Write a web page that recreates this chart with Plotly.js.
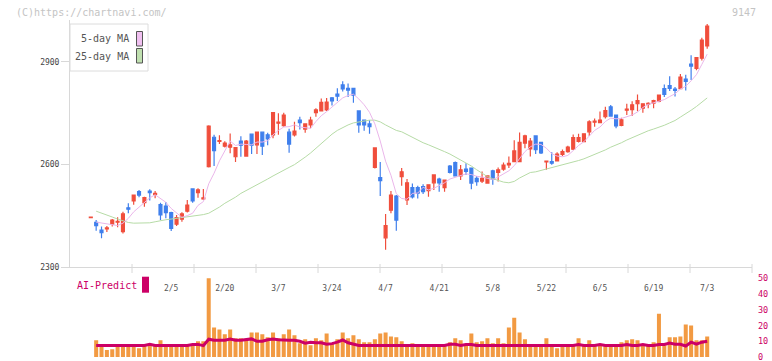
<!DOCTYPE html>
<html><head><meta charset="utf-8">
<script src="https://cdn.plot.ly/plotly-3.0.1.min.js"></script>
<style>html,body{margin:0;padding:0;background:#fff}#chart{width:772px;height:361px}</style>
</head><body><div id="chart"></div>
<script>
// Trading days (2025)
const dates = ["1/15","1/16","1/17","1/20","1/21","1/22","1/23","1/24","1/27","1/28","1/29","1/30","1/31",
"2/3","2/4","2/5","2/6","2/7","2/10","2/12","2/13","2/14","2/17","2/18","2/19","2/20","2/21","2/25","2/26","2/27","2/28",
"3/3","3/4","3/5","3/6","3/7","3/10","3/11","3/12","3/13","3/14","3/17","3/18","3/19","3/21","3/24","3/25","3/26","3/27","3/28","3/31",
"4/1","4/2","4/3","4/4","4/7","4/8","4/9","4/10","4/11","4/14","4/15","4/16","4/17","4/18","4/21","4/22","4/23","4/24","4/25","4/28","4/30",
"5/1","5/2","5/7","5/8","5/9","5/12","5/13","5/14","5/15","5/16","5/19","5/20","5/21","5/22","5/23","5/26","5/27","5/28","5/29","5/30",
"6/2","6/3","6/4","6/5","6/6","6/9","6/10","6/11","6/12","6/13","6/16","6/17","6/18","6/19","6/20","6/23","6/24","6/25","6/26","6/27","6/30",
"7/1","7/2","7/3"];

const openP = [2445,2431,2409,2412,2426,2432,2404,2474,2494,2521,
2489,2523,2513,2483,2479,2460,2426,2441,2464,2529,
2518,2500,2594,2680,2668,2654,2651,2623,2669,2625,
2689,2658,2695,2687,2687,2721,2714,2695,2687,2730,
2704,2716,2752,2757,2760,2795,2806,2833,2823,2823,
2757,2730,2719,2592,2562,2386,2467,2508,2565,2497,
2533,2533,2536,2524,2547,2558,2533,2596,2606,2567,
2587,2590,2560,2552,2546,2582,2577,2587,2599,2609,
2609,2663,2646,2684,2665,2608,2609,2611,2630,2638,
2645,2668,2667,2696,2724,2723,2740,2769,2745,2715,
2759,2761,2778,2765,2777,2780,2785,2822,2831,2821,
2822,2850,2894,2881,2911,2947];

const highP = [2447,2438,2419,2421,2441,2446,2462,2487,2513,2526,
2506,2528,2523,2489,2491,2462,2453,2461,2497,2531,
2531,2529,2715,2687,2686,2668,2691,2651,2683,2672,
2691,2696,2696,2693,2753,2750,2752,2705,2725,2740,
2721,2740,2765,2793,2795,2798,2823,2844,2837,2823,
2757,2730,2730,2650,2608,2456,2523,2511,2590,2558,
2545,2538,2543,2541,2570,2562,2556,2599,2609,2599,
2604,2592,2567,2580,2567,2585,2592,2606,2624,2671,
2694,2687,2678,2684,2667,2611,2636,2636,2644,2655,
2688,2690,2691,2730,2735,2755,2769,2774,2745,2737,
2778,2785,2805,2778,2782,2790,2805,2834,2858,2827,
2865,2863,2920,2913,2971,3011];

const lowP = [2445,2407,2385,2403,2419,2417,2399,2458,2483,2505,
2477,2495,2502,2438,2443,2406,2421,2433,2460,2489,
2503,2497,2592,2596,2660,2650,2633,2608,2623,2623,
2631,2631,2628,2657,2677,2687,2711,2635,2682,2703,
2693,2706,2740,2757,2757,2773,2786,2814,2798,2781,
2693,2699,2690,2589,2508,2351,2458,2407,2538,2482,
2501,2501,2514,2506,2526,2521,2521,2574,2565,2555,
2570,2528,2538,2546,2545,2541,2551,2582,2590,2608,
2608,2648,2624,2631,2631,2585,2600,2609,2625,2635,
2643,2665,2667,2684,2711,2721,2735,2740,2706,2712,
2745,2742,2756,2752,2765,2765,2782,2798,2815,2799,
2820,2817,2847,2876,2904,2939];

const closeP = [2447,2422,2401,2415,2438,2434,2456,2470,2511,2511,
2504,2518,2516,2453,2460,2414,2445,2456,2482,2494,
2526,2503,2713,2641,2670,2663,2658,2650,2657,2669,
2657,2695,2654,2675,2752,2724,2745,2660,2698,2723,
2719,2730,2760,2782,2783,2786,2800,2821,2818,2803,
2716,2716,2711,2649,2553,2422,2511,2438,2579,2547,
2506,2517,2521,2541,2570,2547,2555,2577,2567,2585,
2580,2546,2550,2560,2567,2557,2585,2599,2604,2640,
2665,2684,2669,2644,2634,2610,2604,2631,2638,2651,
2679,2679,2690,2725,2727,2730,2758,2742,2713,2731,
2762,2775,2787,2778,2779,2787,2803,2805,2823,2817,
2856,2843,2888,2913,2964,3005];

const ma5 = [null,2432,2430,2427,2424,2422,2429,2443,2462,2476,
2490,2503,2512,2500,2490,2472,2458,2446,2451,2458,
2481,2492,2544,2575,2611,2638,2669,2656,2660,2659,
2658,2666,2666,2670,2687,2700,2710,2711,2716,2710,
2709,2706,2726,2743,2755,2768,2782,2795,2802,2806,
2792,2775,2753,2719,2669,2610,2569,2515,2501,2499,
2516,2517,2534,2526,2531,2539,2547,2558,2563,2566,
2573,2571,2566,2564,2561,2556,2564,2574,2582,2597,
2619,2638,2652,2660,2659,2648,2632,2625,2623,2627,
2641,2656,2667,2685,2700,2710,2726,2736,2734,2735,
2741,2745,2754,2767,2776,2781,2787,2790,2799,2807,
2821,2829,2845,2863,2893,2923];

const ma25 = [null,2464,2459,2453,2447,2441,2435,2431,2429,2429,
2429,2430,2433,2437,2439,2441,2443,2446,2448,2450,
2452,2454,2458,2466,2476,2487,2495,2505,2516,2524,
2533,2542,2550,2558,2567,2576,2585,2592,2600,2610,
2622,2634,2648,2662,2676,2689,2700,2709,2716,2722,
2725,2728,2730,2730,2725,2716,2709,2700,2696,2688,
2679,2670,2664,2658,2652,2645,2638,2631,2622,2614,
2606,2596,2585,2575,2565,2559,2554,2549,2547,2551,
2561,2568,2577,2579,2583,2587,2590,2595,2599,2602,
2607,2612,2617,2623,2629,2635,2643,2651,2657,2664,
2672,2679,2687,2694,2699,2704,2709,2715,2722,2729,
2739,2748,2759,2770,2782,2795];

const aiBars = [null,10.6,7.5,4.4,5,7.5,7.3,7.5,7.4,5.6,
7.5,7.5,7.4,10.6,7.5,7.3,7.5,7.4,7.5,8.1,
10,10,52,18.8,17.5,14.4,17.5,11.9,11.9,11.3,
15.6,15.6,14.4,12.5,15.6,11.9,14.4,17.5,13.8,8.8,
11.3,7.5,11.9,10.6,15,8.8,11.3,15.6,11.9,13.8,
11.3,9.4,9.4,11.3,15,15.6,13.1,12.5,10,7.5,
8.8,7.5,7.4,7.5,7.3,7.5,7.4,9.4,11.9,10.6,
7.5,15,9.4,10,11.9,8.8,11.9,8.8,18.8,25,
15.6,11.3,7.5,7.4,7.5,11.9,7.5,5.6,7.5,7.4,
7.5,11.9,7.5,10.6,7.5,7.4,7.5,7.5,7.3,9.4,
10.6,11.3,10.6,7.5,7.4,9.4,27.5,7.5,12.5,12.5,
13.1,20.6,20,10.6,10.6,13.1];

const aiLine = [null,7.3,7.3,7.3,7.3,7.3,7.3,7.3,7.3,7.3,
7.3,8.1,7.3,7.3,7.3,7.3,7.3,7.3,7.3,8,
8,7.2,11.3,10.6,10.6,10.6,11.4,10.6,10.6,11,
11.5,10,10,11,11.4,11,10.6,10.6,10.6,10,
8.8,9.3,9,9,8.1,8.5,9.4,10.8,9,8.1,
7.3,7.3,7.3,7.3,7.3,7.3,7.3,7.3,7.3,7.3,
7.3,7.3,7.3,7.3,7.3,7.3,7.3,8.1,8.1,7.3,
8,8,7.3,7.3,7.3,7.3,7.3,7.3,7.3,7.3,
7.3,7.3,7.3,7.3,7.3,7.3,7.3,7.3,7.3,7.3,
7.3,8,7.3,7.3,7.3,8,7.3,7.3,7.3,7.3,
8,7.3,7.3,8,7.3,7.3,8,8,8.8,8.1,
8.1,7,9.4,8.1,9.4,10];

const tickDates = ["2/5","2/20","3/7","3/24","4/7","4/21","5/8","5/22","6/5","6/19","7/3"];
const priceTicks = [2300,2600,2900];
const aiTicks = [0,10,20,30,40,50];
const legendNames = ["5-day MA","25-day MA"];

const FONT = 'DejaVu Sans Mono, monospace';
const xRange = [-3.88, 123.36];

const traces = [
  {type:'scatter', mode:'lines', name:legendNames[1], x:dates, y:ma25, xaxis:'x', yaxis:'y',
   line:{color:'#b6dba6', width:1}, hoverinfo:'skip'},
  {type:'scatter', mode:'lines', name:legendNames[0], x:dates, y:ma5, xaxis:'x', yaxis:'y',
   line:{color:'#eab6ea', width:1}, hoverinfo:'skip'},
  {type:'candlestick', x:dates, open:openP, high:highP, low:lowP, close:closeP, xaxis:'x', yaxis:'y',
   whiskerwidth:0,
   increasing:{line:{color:'#f04e3c', width:1.2}, fillcolor:'#f04e3c'},
   decreasing:{line:{color:'#3f7fec', width:1.2}, fillcolor:'#3f7fec'}},
  {type:'bar', x:dates, y:aiBars, xaxis:'x2', yaxis:'y2', marker:{color:'#f29a42', line:{width:0}}},
  {type:'scatter', mode:'lines', name:'AI-Predict', x:dates, y:aiLine, xaxis:'x2', yaxis:'y2',
   line:{color:'#cc0066', width:3}}
];

const py = v => (357 - v) / 337;   // page pixel row -> paper fraction
const px = v => (v - 70) / 682;    // page pixel column -> paper fraction

const shapes = [];
for (let k = 1; k <= 11; k++) {
  shapes.push({type:'line', xref:'paper', yref:'paper', x0:k/11, x1:k/11, y0:py(273), y1:py(264),
    line:{color:'#d8d8d8', width:1}});
}
shapes.push({type:'rect', xref:'paper', yref:'paper', x0:0, x1:px(148), y0:py(71), y1:py(24),
  line:{color:'#dcdcdc', width:1}, fillcolor:'#ffffff', layer:'above'});
shapes.push({type:'rect', xref:'paper', yref:'paper', x0:px(136.5), x1:px(142.5), y0:py(46), y1:py(31.5),
  line:{color:'#555', width:1}, fillcolor:'#f0c0f0', layer:'above'});
shapes.push({type:'rect', xref:'paper', yref:'paper', x0:px(136.5), x1:px(142.5), y0:py(63), y1:py(48.5),
  line:{color:'#555', width:1}, fillcolor:'#c0e0b0', layer:'above'});
shapes.push({type:'rect', xref:'paper', yref:'paper', x0:px(142), x1:px(149), y0:py(292.7), y1:py(276.7),
  line:{width:0}, fillcolor:'#cc0066', layer:'above'});

const annotations = [
  {xref:'paper', yref:'paper', x:px(14), y:py(12.5), xanchor:'left', yanchor:'middle', showarrow:false,
   text:'(C)https://chartnavi.com/', font:{family:FONT, size:10, color:'#c4c4c4'}},
  {xref:'paper', yref:'paper', x:px(758), y:py(12.5), xanchor:'right', yanchor:'middle', showarrow:false,
   text:'9147', font:{family:FONT, size:10, color:'#c4c4c4'}},
  {xref:'paper', yref:'paper', x:px(130.5), y:py(38.7), xanchor:'right', yanchor:'middle', showarrow:false,
   text:legendNames[0], font:{family:FONT, size:10, color:'#555'}},
  {xref:'paper', yref:'paper', x:px(130.5), y:py(56), xanchor:'right', yanchor:'middle', showarrow:false,
   text:legendNames[1], font:{family:FONT, size:10, color:'#555'}},
  {xref:'paper', yref:'paper', x:px(74.5), y:py(285.8), xanchor:'left', yanchor:'middle', showarrow:false,
   text:'AI-Predict', font:{family:FONT, size:10, color:'#cc0066'}}
];

const layout = {
  width:772, height:361,
  margin:{l:70, r:20, t:20, b:4, pad:0},
  paper_bgcolor:'#ffffff', plot_bgcolor:'rgba(0,0,0,0)',
  showlegend:false,
  boxgap:0.22, bargap:0.25,
  font:{family:FONT, size:8, color:'#555'},
  xaxis:{type:'category', categoryorder:'array', categoryarray:dates, range:xRange, domain:[0,1], anchor:'y',
    rangeslider:{visible:false}, showgrid:false, zeroline:false,
    showline:true, linecolor:'#d8d8d8', linewidth:1, ticks:'',
    tickvals:tickDates, ticktext:tickDates, ticklabelstandoff:13,
    tickfont:{family:FONT, size:8, color:'#555'}},
  yaxis:{domain:[py(267.3), 1], range:[2300, 3022.7], anchor:'x', showgrid:false, zeroline:false,
    showline:true, linecolor:'#d8d8d8', linewidth:1,
    ticks:'outside', ticklen:8, tickcolor:'#d8d8d8', tickwidth:1,
    tickvals:priceTicks, ticktext:priceTicks.map(String),
    tickfont:{family:FONT, size:8, color:'#444'}},
  xaxis2:{type:'category', categoryorder:'array', categoryarray:dates, range:xRange, domain:[0,1], anchor:'y2',
    showticklabels:false, showline:false, showgrid:false, zeroline:false, ticks:''},
  yaxis2:{domain:[0, py(278.3)], range:[0,50], anchor:'x2', side:'right',
    showgrid:false, zeroline:false, showline:false, ticks:'',
    tickvals:aiTicks, ticktext:aiTicks.map(String), ticklabelstandoff:5, ticklabeloverflow:'allow',
    tickfont:{family:FONT, size:8.5, color:'#cc0066'}},
  shapes:shapes,
  annotations:annotations
};

Plotly.newPlot('chart', traces, layout, {staticPlot:true, displayModeBar:false});
</script>
</body></html>
